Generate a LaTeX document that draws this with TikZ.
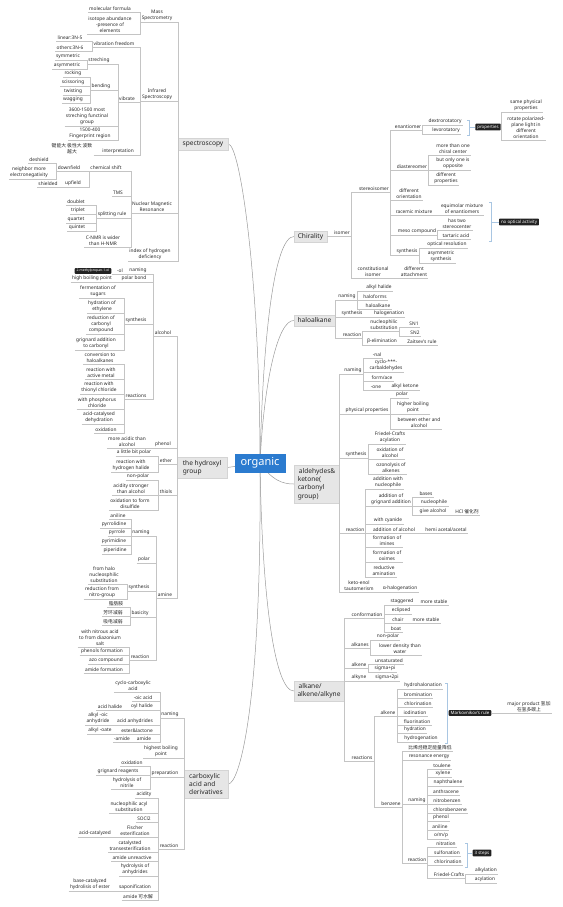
\documentclass[tikz,border=0pt]{standalone}
\usepackage{fontspec}
\setmainfont{Noto Sans}
\newfontfamily\cjk{Noto Sans CJK SC}
\usetikzlibrary{backgrounds}
\definecolor{txt}{HTML}{262626}
\definecolor{lc}{HTML}{C4C4C4}
\definecolor{cvc}{HTML}{9A9A9A}
\definecolor{boxf}{HTML}{E6E6E6}
\definecolor{boxd}{HTML}{D4D4D4}
\definecolor{orgc}{HTML}{2B7BCF}
\definecolor{brc}{HTML}{A9C6E2}
\definecolor{tagc}{HTML}{222222}
\newcommand\leaf{\fontsize{4.8}{6.2}\selectfont}
\newcommand\mainf{\fontsize{6.6}{8.2}\selectfont}
\newcommand\tagf{\fontsize{4.4}{5}\selectfont}
\tikzset{
  t/.style={anchor=south, align=center, inner xsep=1.2pt, inner ysep=0.9pt, text=txt, font=\leaf},
  ln/.style={draw=lc, line width=0.45pt},
  cv/.style={draw=cvc, line width=0.5pt},
  br/.style={draw=brc, line width=0.6pt},
  mbox/.style={fill=boxf, draw=boxd, line width=0.3pt, text=txt, font=\mainf, align=left, inner sep=1.5pt},
  tagbox/.style={fill=tagc, text=white, rounded corners=0.8pt, font=\tagf, inner xsep=2pt, inner ysep=1.2pt},
}
\newcommand\NodeT[4]{\node[t] (#1) at (#2,#3) {#4}; \draw[ln] (#1.south west) -- (#1.south east);}
\newcommand\LinkL[2]{\foreach \ch in {#2}{\draw[ln] (\ch.south east) -| (#1.south west);}}
\newcommand\LinkR[2]{\foreach \ch in {#2}{\draw[ln] (\ch.south west) -| (#1.south east);}}
\newcommand\LinkLB[2]{\foreach \ch in {#2}{\draw[ln] (\ch.south east) -| (#1.west);}}
\newcommand\LinkRB[2]{\foreach \ch in {#2}{\draw[ln] (\ch.south west) -| (#1.east);}}
\begin{document}
\begin{tikzpicture}[x=1pt,y=-1pt]
\useasboundingbox (0,0) rectangle (562,907);
% ---------- main topics ----------
\node[fill=orgc, text=white, font=\fontsize{11}{12}\selectfont, minimum width=51pt, minimum height=19pt, inner sep=1pt] (org) at (260,463) {organic};
\node[mbox, minimum width=50pt, minimum height=12pt] (spec) at (203,144) {spectroscopy};
\node[mbox, minimum width=50pt, minimum height=21pt] (hyd) at (202,467.5) {the hydroxyl\\group};
\node[mbox, minimum width=44pt, minimum height=28pt] (carb) at (206,784) {carboxylic\\acid and\\derivatives};
\node[mbox, minimum width=33pt, minimum height=11pt] (chi) at (310.5,236.5) {Chirality};
\node[mbox, minimum width=41pt, minimum height=11pt] (halo) at (314.5,320.5) {haloalkane};
\node[mbox, minimum width=45pt, minimum height=38pt] (ald) at (316.5,484) {\,aldehydes\&\\ketone(\\carbonyl\\group)};
\node[mbox, minimum width=50pt, minimum height=20pt] (alk) at (319,691) {\,alkane/\\alkene/alkyne};
\begin{scope}[on background layer]
\draw[cv] (org.center) .. controls (260,280) and (240,143) .. (spec.east);
\draw[cv] (org.center) .. controls (263,330) and (275,237) .. (chi.west);
\draw[cv] (org.center) .. controls (264,380) and (278,320) .. (halo.west);
\draw[cv] (org.center) .. controls (272,480) and (282,484) .. (ald.west);
\draw[cv] (org.center) .. controls (262,600) and (275,691) .. (alk.west);
\draw[cv] (org.center) .. controls (262,700) and (240,784) .. (carb.east);
\draw[cv] (org.center) -- (hyd.east);
\end{scope}
% ---------- spectroscopy ----------
\NodeT{ms}{157}{22}{Mass\\Spectrometry}
\NodeT{mf}{110}{12}{molecular formula}
\NodeT{iso}{110}{34}{isotope abundance\\-presence of\\elements}
\NodeT{ir}{157}{101}{Infrared\\Spectroscopy}
\NodeT{vf}{114}{47}{vibration freedom}
\NodeT{lin}{70}{41}{linear:3N-5}
\NodeT{oth}{70}{51}{others:3N-6}
\NodeT{vib}{127}{102}{vibrate}
\NodeT{str}{99}{64}{streching}
\NodeT{sym}{68}{60}{symmetric}
\NodeT{asym}{67}{69}{asymmetric}
\NodeT{bend}{101}{90}{bending}
\NodeT{rock}{73}{77}{rocking}
\NodeT{sci}{73}{86}{scissoring}
\NodeT{twi}{73}{95}{twisting}
\NodeT{wag}{73}{103}{wagging}
\NodeT{most}{87}{126}{3600-1500 most\\streching functinal\\group}
\NodeT{fp}{90}{140}{1500-400\\Fingerprint region}
\NodeT{intp}{118}{155}{interpretation}
\node[t] (cn) at (72,155) {{\cjk 键能大 极性大 波数}\\{\cjk 越大}};
\NodeT{nmr}{152}{213}{Nuclear Magnetic\\Resonance}
\NodeT{cs}{106}{171}{chemical shift}
\NodeT{down}{69}{171}{downfield}
\NodeT{desh}{39}{163}{deshield}
\NodeT{nme}{29}{179}{neighbor more\\electronegativity}
\NodeT{up}{73}{187}{upfield}
\NodeT{shd}{48}{187}{shielded}
\NodeT{tms}{118}{196}{TMS}
\NodeT{split}{112}{218}{splitting rule}
\NodeT{dbl}{76}{205}{doublet}
\NodeT{tri}{78}{214}{triplet}
\NodeT{qua}{76}{223}{quartet}
\NodeT{qui}{77}{231}{quintet}
\NodeT{cnmr}{103}{247}{C-NMR is wider\\than H-NMR}
\NodeT{ihd}{150}{261}{index of hydrogen\\deficiency}
\LinkLB{spec}{ms,ir,nmr,ihd}
\LinkL{ms}{mf,iso}
\LinkL{ir}{vf,vib,intp}
\LinkL{vf}{lin,oth}
\LinkL{vib}{str,bend,most,fp}
\LinkL{str}{sym,asym}
\LinkL{bend}{rock,sci,twi,wag}
\LinkL{intp}{cn}
\LinkL{nmr}{cs,tms,split,cnmr}
\LinkL{cs}{down,up}
\LinkL{down}{desh,nme}
\LinkL{up}{shd}
\LinkL{split}{dbl,tri,qua,qui}
% ---------- hydroxyl group ----------
\NodeT{alc}{163}{336}{alcohol}
\NodeT{anm}{138}{274}{naming}
\NodeT{ol}{120}{274}{-ol}
\node[tagbox, font=\fontsize{3.4}{4}\selectfont] (tagA) at (93,271) {2-methylpropan-1-ol};
\NodeT{pb}{134}{282}{polar bond}
\NodeT{hbp}{92}{282}{high boiling point}
\NodeT{asyn}{136}{324}{synthesis}
\NodeT{ferm}{98}{298}{fermentation of\\sugars}
\NodeT{hydr}{102}{313}{hydration of\\ethylene}
\NodeT{redc}{101}{334}{reduction of\\carbonyl\\compound}
\NodeT{grig}{96}{350}{grignard addition\\to carbonyl}
\NodeT{arx}{136}{399}{reactions}
\NodeT{conv}{100}{364}{conversion to\\haloalkanes}
\NodeT{actm}{101}{379}{reaction with\\active metal}
\NodeT{thio}{99}{394}{reaction with\\thionyl chloride}
\NodeT{phos}{97}{409}{with phosphorus\\chloride}
\NodeT{acd}{99}{424}{acid-catalysed\\dehydration}
\NodeT{oxi}{106}{433}{oxidation}
\NodeT{phe}{163}{448}{phenol}
\NodeT{mac}{127}{448}{more acidic than\\alcohol}
\NodeT{eth}{166}{464}{ether}
\NodeT{lbp}{134}{456}{a little bit polar}
\NodeT{rhh}{131}{472}{reaction with\\hydrogen halide}
\NodeT{thl}{166}{495}{thiols}
\NodeT{np}{138}{480}{non-polar}
\NodeT{ast}{131}{495}{acidity stronger\\than alcohol}
\NodeT{odf}{130}{510}{oxidation to form\\disulfide}
\NodeT{amn}{165}{598}{amine}
\NodeT{amnm}{141}{536}{naming}
\NodeT{anl}{118}{519}{aniline}
\NodeT{pyd}{114}{528}{pyrrolidine}
\NodeT{pyr}{117}{536}{pyrrole}
\NodeT{pym}{114}{545}{pyrimidine}
\NodeT{pip}{115}{554}{piperidine}
\NodeT{pol}{144}{563}{polar}
\NodeT{amsy}{139}{591}{synthesis}
\NodeT{fhn}{104}{584}{from halo\\nucleosphilic\\substitution}
\NodeT{rfn}{102}{599}{reduction from\\nitro-group}
\NodeT{bas}{140}{617}{basicity}
\NodeT{bA}{116}{607}{\cjk 脂肪胺}
\NodeT{bB}{113}{616}{\cjk 芳环减弱}
\NodeT{bC}{113}{625}{\cjk 吸电减弱}
\NodeT{amrx}{140}{660}{reaction}
\NodeT{nit}{100}{647}{with nitrous acid\\to from diazonium\\salt}
\NodeT{phf}{102}{655}{phenols formation}
\NodeT{azo}{106}{664}{azo compound}
\NodeT{amf}{104}{673}{amide formation}
\LinkLB{hyd}{alc,phe,eth,thl,amn}
\LinkL{alc}{anm,pb,asyn,arx}
\LinkL{anm}{ol}
\LinkL{ol}{tagA}
\LinkL{pb}{hbp}
\LinkL{asyn}{ferm,hydr,redc,grig}
\LinkL{arx}{conv,actm,thio,phos,acd,oxi}
\LinkL{phe}{mac}
\LinkL{eth}{lbp,rhh}
\LinkL{thl}{np,ast,odf}
\LinkL{amn}{amnm,pol,amsy,bas,amrx}
\LinkL{amnm}{anl,pyd,pyr,pym,pip}
\LinkL{amsy}{fhn,rfn}
\LinkL{bas}{bA,bB,bC}
\LinkL{amrx}{nit,phf,azo,amf}
% ---------- carboxylic acid ----------
\NodeT{cnm}{170}{718}{naming}
\NodeT{cyc}{133}{692}{cyclo-carboxylic\\acid}
\NodeT{oic}{143}{701}{-oic acid}
\NodeT{oyl}{142}{710}{oyl halide}
\NodeT{ahl}{110}{710}{acid halide}
\NodeT{anh}{135}{725}{acid anhydrides}
\NodeT{aoa}{98}{725}{alkyl -oic\\anhydride}
\NodeT{est}{137}{734}{ester\&lactone}
\NodeT{aoe}{100}{734}{alkyl -oate}
\NodeT{amd}{144}{742}{amide}
\NodeT{mamd}{122}{742}{-amide}
\NodeT{hbpb}{161}{758}{highest boiling\\point}
\NodeT{prep}{165}{777}{preparation}
\NodeT{cox}{132}{766}{oxidation}
\NodeT{cgr}{118}{775}{grignard reagents}
\NodeT{hnit}{127}{789}{hydrolysis of\\nitrile}
\NodeT{crx}{169}{849}{reaction}
\NodeT{acy}{144}{798}{acidity}
\NodeT{nas}{129}{813}{nucleophilic acyl\\substitution}
\NodeT{soc}{144}{822}{SOCl2}
\NodeT{fis}{135}{837}{Fischer\\esterification}
\NodeT{acat}{95}{837}{acid-catalyzed}
\NodeT{tra}{130}{852}{catalysted\\transesterification}
\NodeT{amu}{132}{861}{amide unreactive}
\NodeT{han}{135}{876}{hydrolysis of\\anhydrides}
\NodeT{sap}{135}{891}{saponification}
\NodeT{bch}{90}{891}{base-catalyzed\\hydrolisis of ester}
\NodeT{amh}{138}{900}{amide {\cjk 可水解}}
\LinkLB{carb}{cnm,hbpb,prep,crx}
\LinkL{cnm}{cyc,oic,oyl,anh,est,amd}
\LinkL{oyl}{ahl}
\LinkL{anh}{aoa}
\LinkL{est}{aoe}
\LinkL{amd}{mamd}
\LinkL{prep}{cox,cgr,hnit}
\LinkL{crx}{acy,nas,soc,fis,tra,amu,han,sap,amh}
\LinkL{fis}{acat}
\LinkL{sap}{bch}
% ---------- chirality ----------
\NodeT{isom}{342}{236}{isomer}
\NodeT{ster}{374}{192}{stereoisomer}
\NodeT{ena}{408}{130}{enantiomer}
\NodeT{dex}{445}{125}{dextrorotatory}
\NodeT{lev}{446}{134}{levorotatory}
\node[tagbox] (prop) at (488,127) {properties};
\NodeT{spp}{526}{112}{same physical\\properties}
\NodeT{rpl}{526}{140}{rotate polarized-\\plane light in\\different\\orientation}
\NodeT{dia}{412}{170}{diastereomer}
\NodeT{mto}{453}{155}{more than one\\chiral center}
\NodeT{boo}{453}{170}{but only one is\\opposite}
\NodeT{dpr}{446}{185}{different\\properties}
\NodeT{dor}{409}{200}{different\\orientation}
\NodeT{rac}{414}{215}{racemic mixture}
\NodeT{eqm}{462}{215}{equimolar mixture\\of enantiomers}
\NodeT{mes}{417}{235}{meso compound}
\NodeT{hts}{457}{230}{has two\\stereocenter}
\NodeT{tar}{456}{239}{tartaric acid}
\node[tagbox] (noa) at (519,222) {no optical activity};
\NodeT{csy}{407}{255}{synthesis}
\NodeT{opr}{447}{248}{optical resolution}
\NodeT{asy}{441}{263}{asymmetric\\synthesis}
\NodeT{con}{373}{278}{constitutional\\isomer}
\NodeT{dat}{414}{278}{different\\attachment}
\LinkRB{chi}{isom}
\LinkR{isom}{ster,con}
\LinkR{ster}{ena,dia,dor,rac,mes,csy}
\LinkR{ena}{dex,lev}
\LinkRB{prop}{spp,rpl}
\LinkR{dia}{mto,boo,dpr}
\LinkR{rac}{eqm}
\LinkR{mes}{hts,tar}
\LinkR{csy}{opr,asy}
\LinkR{con}{dat}
\coordinate (pA) at (469,120); \coordinate (pB) at (469,135);
\draw[br] ([xshift=-2pt]pA) -- (pA) -- (pB) -- ([xshift=-2pt]pB);
\draw[br] (pA |- prop) -- (prop.west);
\coordinate (nA) at (491,202); \coordinate (nB) at (491,241);
\draw[br] ([xshift=-2pt]nA) -- (nA) -- (nB) -- ([xshift=-2pt]nB);
\draw[br] (nA |- noa) -- (noa.west);
% ---------- haloalkane ----------
\NodeT{hnm}{347}{300}{naming}
\NodeT{ahal}{379}{291}{alkyl halide}
\NodeT{hfm}{375}{300}{haloforms}
\NodeT{hak}{378}{309}{haloalkane}
\NodeT{hsy}{352}{317}{synthesis}
\NodeT{hal}{389}{317}{halogenation}
\NodeT{hrx}{352}{338}{reaction}
\NodeT{nsub}{384}{331}{nucleophilic\\substitution}
\NodeT{snA}{414}{327}{SN1}
\NodeT{snB}{415}{336}{SN2}
\NodeT{bel}{382}{345}{β-elimination}
\NodeT{zai}{422}{345}{Zaitsev's rule}
\LinkRB{halo}{hnm,hsy,hrx}
\LinkR{hnm}{ahal,hfm,hak}
\LinkR{hsy}{hal}
\LinkR{hrx}{nsub,bel}
\LinkR{nsub}{snA,snB}
\LinkR{bel}{zai}
% ---------- aldehydes ----------
\NodeT{anmb}{353}{374}{naming}
\NodeT{nal}{377}{358}{-nal}
\NodeT{cyca}{386}{372}{cyclo-***-\\carbaldehydes}
\NodeT{fac}{382}{381}{form/ace}
\NodeT{one}{376}{390}{-one}
\NodeT{alkk}{405}{390}{alkyl ketone}
\NodeT{php}{367}{414}{physical properties}
\NodeT{apol}{402}{398}{polar}
\NodeT{hbpc}{413}{414}{higher boiling\\point}
\NodeT{bea}{419}{429}{between ether and\\alcohol}
\NodeT{asyb}{356}{458}{synthesis}
\NodeT{fca}{390}{444}{Friedel-Crafts\\acylation}
\NodeT{ooa}{390}{459}{oxidation of\\alcohol}
\NodeT{ozo}{391}{474}{ozonolysis of\\alkenes}
\NodeT{arxb}{355}{533}{reaction}
\NodeT{awn}{388}{489}{addition with\\nucleophile}
\NodeT{aog}{391}{506}{addition of\\grignard addition}
\NodeT{bss}{426}{497}{bases}
\NodeT{nuc}{434}{506}{nucleophile}
\NodeT{gal}{433}{515}{give alcohol}
\NodeT{hcl}{467}{515}{HCl {\cjk 催化剂}}
\NodeT{wcy}{388}{524}{with cyanide}
\NodeT{aoal}{394}{533}{addition of alcohol}
\NodeT{hem}{446}{533}{hemi acetal/acetal}
\NodeT{foi}{387}{547}{formation of\\imines}
\NodeT{foo}{387}{562}{formation of\\oximes}
\NodeT{ram}{384}{577}{reductive\\amination}
\NodeT{ket}{359}{592}{keto-enol\\tautomerism}
\NodeT{ahg}{400}{592}{α-halogenation}
\LinkRB{ald}{anmb,php,asyb,arxb,ket}
\LinkR{anmb}{nal,cyca,fac,one}
\LinkR{one}{alkk}
\LinkR{php}{apol,hbpc,bea}
\LinkR{asyb}{fca,ooa,ozo}
\LinkR{arxb}{awn,aog,wcy,aoal,foi,foo,ram}
\LinkR{aog}{bss,nuc,gal}
\LinkR{gal}{hcl}
\LinkR{aoal}{hem}
\LinkR{ket}{ahg}
% ---------- alkane ----------
\NodeT{conf}{367}{618}{conformation}
\NodeT{stg}{402}{605}{staggered}
\NodeT{msA}{434}{605}{more stable}
\NodeT{ecl}{401}{614}{eclipsed}
\NodeT{cha}{398}{623}{chair}
\NodeT{msB}{426}{623}{more stable}
\NodeT{boa}{396}{632}{boat}
\NodeT{alks}{360}{648}{alkanes}
\NodeT{npl}{388}{640}{non-polar}
\NodeT{ldw}{400}{655}{lower density than\\water}
\NodeT{alke}{359}{668}{alkene}
\NodeT{uns}{389}{664}{unsaturated}
\NodeT{spi}{385}{672}{sigma+pi}
\NodeT{alky}{359}{681}{alkyne}
\NodeT{stp}{387}{681}{sigma+2pi}
\NodeT{rxs}{362}{761}{reactions}
\NodeT{rak}{388}{716}{alkene}
\NodeT{hh}{423}{689}{hydrohalonation}
\NodeT{bro}{418}{698}{bromination}
\NodeT{chl}{418}{707}{chlorination}
\NodeT{iod}{415}{716}{iodination}
\NodeT{flu}{417}{725}{fluorination}
\NodeT{hyn}{415}{733}{hydration}
\NodeT{hgn}{421}{742}{hydrogenation}
\node[tagbox] (mkr) at (470,713) {Markovnikov's rule};
\NodeT{mjp}{529}{713}{major product {\cjk 氢加}\\{\cjk 在氢多碳上}}
\NodeT{bnz}{391}{807}{benzene}
\NodeT{bcn}{430}{751}{\cjk 比烯烃稳定能量降低}
\NodeT{res}{429}{760}{resonance energy}
\NodeT{bnm}{417}{804}{naming}
\NodeT{tol}{442}{769}{toulene}
\NodeT{xyl}{443}{777}{xylene}
\NodeT{nap}{448}{786}{naphthalene}
\NodeT{ant}{446}{795}{anthracene}
\NodeT{nib}{447}{804}{nitrobenzen}
\NodeT{clb}{450}{813}{chlorobenzene}
\NodeT{phl}{441}{821}{phenol}
\NodeT{anlb}{440}{830}{aniline}
\NodeT{omp}{441}{839}{o/m/p}
\NodeT{brx}{417}{863}{reaction}
\NodeT{ntr}{446}{847}{nitration}
\NodeT{sul}{447}{856}{sulfonation}
\NodeT{chlb}{448}{865}{chlorination}
\NodeT{frc}{449}{878}{Friedel-Crafts}
\node[tagbox] (st3) at (482,853) {3 steps};
\NodeT{aky}{486}{874}{alkylation}
\NodeT{acl}{485}{883}{acylation}
\LinkRB{alk}{conf,alks,alke,alky,rxs}
\LinkR{conf}{stg,ecl,cha,boa}
\LinkR{stg}{msA}
\LinkR{cha}{msB}
\LinkR{alks}{npl,ldw}
\LinkR{alke}{uns,spi}
\LinkR{alky}{stp}
\LinkR{rxs}{rak,bnz}
\LinkR{rak}{hh,bro,chl,iod,flu,hyn,hgn}
\LinkRB{mkr}{mjp}
\LinkR{bnz}{bcn,res,bnm,brx}
\LinkR{bnm}{tol,xyl,nap,ant,nib,clb,phl,anlb,omp}
\LinkR{brx}{ntr,sul,chlb,frc}
\LinkR{frc}{aky,acl}
\coordinate (mA) at (447,683); \coordinate (mB) at (447,743);
\draw[br] ([xshift=-2pt]mA) -- (mA) -- (mB) -- ([xshift=-2pt]mB);
\draw[br] (mA |- mkr) -- (mkr.west);
\coordinate (sA) at (467,843); \coordinate (sB) at (467,867);
\draw[br] ([xshift=-2pt]sA) -- (sA) -- (sB) -- ([xshift=-2pt]sB);
\draw[br] (sA |- st3) -- (st3.west);
\end{tikzpicture}
\end{document}
